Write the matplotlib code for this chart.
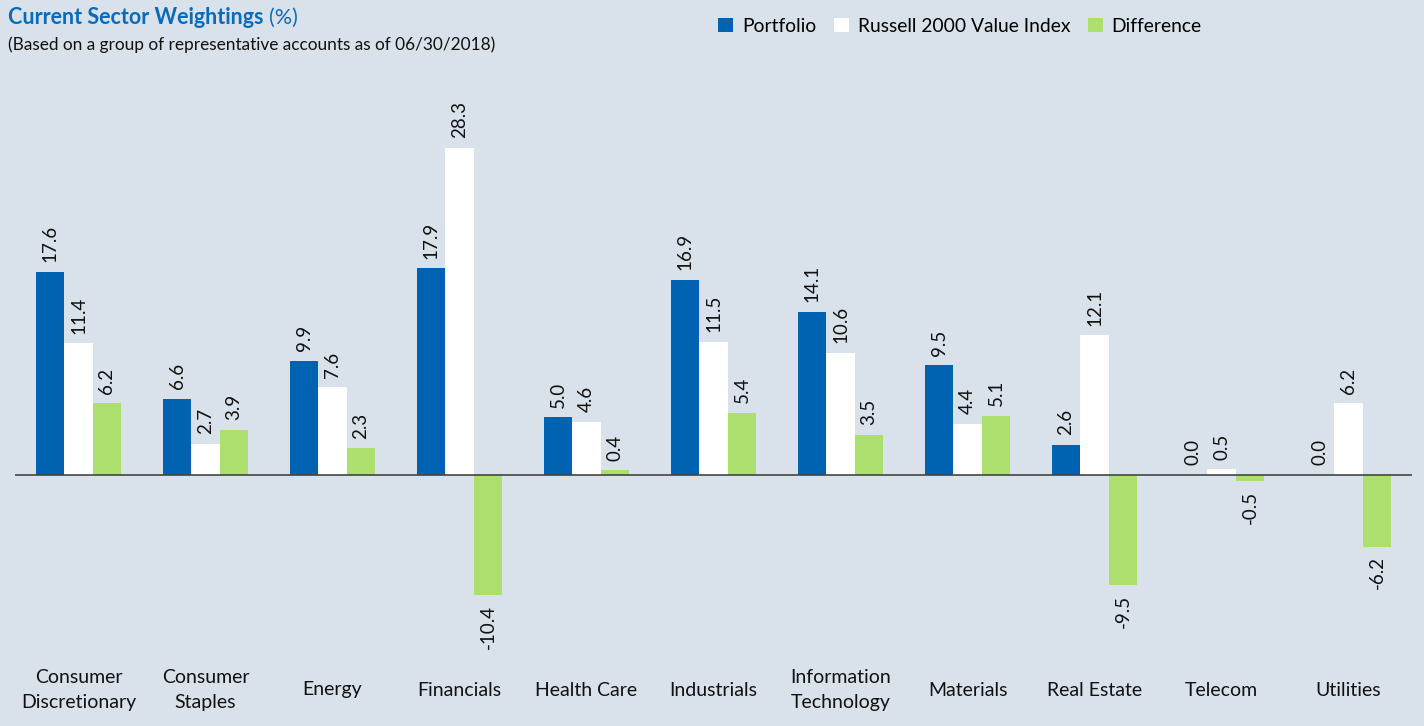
import numpy as np
import matplotlib
matplotlib.use('Agg')
from matplotlib import pyplot as plt
from matplotlib.patches import Patch

sectors = ['Consumer\nDiscretionary', 'Consumer\nStaples', 'Energy', 'Financials',
           'Health Care', 'Industrials', 'Information\nTechnology', 'Materials',
           'Real Estate', 'Telecom', 'Utilities']
portfolio = [17.6, 6.6, 9.9, 17.9, 5.0, 16.9, 14.1, 9.5, 2.6, 0.0, 0.0]
index_wts = [11.4, 2.7, 7.6, 28.3, 4.6, 11.5, 10.6, 4.4, 12.1, 0.5, 6.2]
difference = [6.2, 3.9, 2.3, -10.4, 0.4, 5.4, 3.5, 5.1, -9.5, -0.5, -6.2]
series_names = ['Portfolio', 'Russell 2000 Value Index', 'Difference']

bg = '#d9e2ea'
colors = ['#0063b1', '#ffffff', '#addf6f']

plt.rcParams['font.family'] = ['Lato', 'DejaVu Sans']

W, H = 1424, 726
fig = plt.figure(figsize=(W/100, H/100), dpi=100, facecolor=bg)
# axes from px 15..1412 horizontally, 60..650 vertically
ax = fig.add_axes([15/W, 1 - 650/H, 1397/W, 590/H])
ax.set_facecolor(bg)

x = np.arange(len(sectors))
bw = 0.224
for k, (vals, c) in enumerate(zip([portfolio, index_wts, difference], colors)):
    xs = x + (k - 1)*bw
    ax.bar(xs, vals, width=bw, color=c, linewidth=0, zorder=2)
    for xi, v in zip(xs, vals):
        if v >= 0:
            ax.annotate('%.1f' % v, (xi, v), xytext=(0, 7), textcoords='offset points',
                        rotation=90, ha='center', va='bottom', fontsize=13.5, color='#111111')
        else:
            ax.annotate('%.1f' % v, (xi, v), xytext=(0, -7), textcoords='offset points',
                        rotation=90, ha='center', va='top', fontsize=13.5, color='#111111')

ax.axhline(0, color='#444444', lw=1.2, zorder=3)
ax.set_xlim(-0.5, 10.5)
ax.set_ylim(-15.15, 35.93)
for s in ax.spines.values():
    s.set_visible(False)
ax.set_xticks([])
ax.set_yticks([])

for xi, name in zip(x, sectors):
    ax.text(xi, -40/590, name, transform=ax.get_xaxis_transform(), ha='center', va='center',
            fontsize=14, color='#111111', linespacing=1.55)

# title
t = fig.text(8/W, 1 - 18/H, 'Current Sector Weightings', fontsize=15.5, fontweight='bold',
             color='#0a6bbd', va='center', ha='left')
fig.canvas.draw()
bb = t.get_window_extent()
fig.text((bb.x1 + 5)/W, 1 - 18/H, '(%)', fontsize=15.5, color='#0a6bbd', va='center', ha='left')
fig.text(8/W, 1 - 45/H, '(Based on a group of representative accounts as of 06/30/2018)',
         fontsize=12.4, color='#111111', va='center', ha='left')

handles = [Patch(facecolor=c, edgecolor='none') for c in colors]
fig.legend(handles, series_names, loc='center left', bbox_to_anchor=(701/W, 1 - 26/H),
           ncol=3, frameon=False, fontsize=13.9, handlelength=0.75, handleheight=0.75,
           handletextpad=0.47, columnspacing=0.93)

plt.savefig('out.png', dpi=100, facecolor=bg)
